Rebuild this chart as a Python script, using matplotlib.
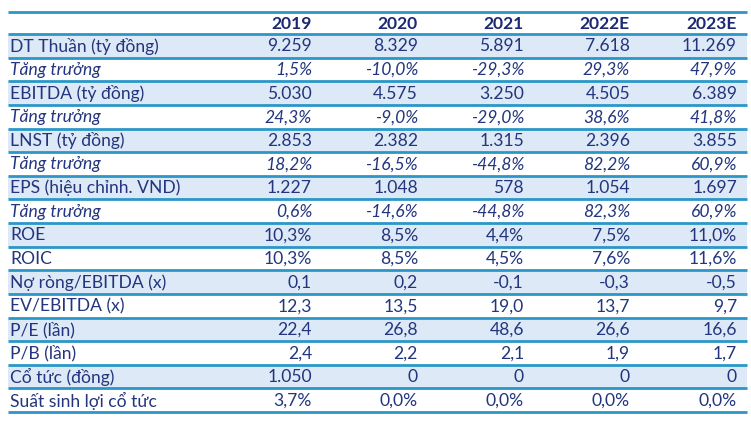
import matplotlib
matplotlib.use("Agg")
import matplotlib.pyplot as plt
from matplotlib.patches import Rectangle

years = ["2019", "2020", "2021", "2022E", "2023E"]
labels = ["DT Thuần (tỷ đồng)", "Tăng trưởng", "EBITDA (tỷ đồng)", "Tăng trưởng",
          "LNST (tỷ đồng)", "Tăng trưởng", "EPS (hiệu chỉnh. VND)", "Tăng trưởng",
          "ROE", "ROIC", "Nợ ròng/EBITDA (x)", "EV/EBITDA (x)", "P/E (lần)",
          "P/B (lần)", "Cổ tức (đồng)", "Suất sinh lợi cổ tức"]
italic_rows = [1, 3, 5, 7]
v2019 = ["9.259", "1,5%", "5.030", "24,3%", "2.853", "18,2%", "1.227", "0,6%", "10,3%", "10,3%", "0,1", "12,3", "22,4", "2,4", "1.050", "3,7%"]
v2020 = ["8.329", "-10,0%", "4.575", "-9,0%", "2.382", "-16,5%", "1.048", "-14,6%", "8,5%", "8,5%", "0,2", "13,5", "26,8", "2,2", "0", "0,0%"]
v2021 = ["5.891", "-29,3%", "3.250", "-29,0%", "1.315", "-44,8%", "578", "-44,8%", "4,4%", "4,5%", "-0,1", "19,0", "48,6", "2,1", "0", "0,0%"]
v2022 = ["7.618", "29,3%", "4.505", "38,6%", "2.396", "82,2%", "1.054", "82,3%", "7,5%", "7,6%", "-0,3", "13,7", "26,6", "1,9", "0", "0,0%"]
v2023 = ["11.269", "47,9%", "6.389", "41,8%", "3.855", "60,9%", "1.697", "60,9%", "11,0%", "11,6%", "-0,5", "9,7", "16,6", "1,7", "0", "0,0%"]
columns = [v2019, v2020, v2021, v2022, v2023]

W, H = 751, 424
fig = plt.figure(figsize=(W / 100, H / 100), dpi=100)
ax = fig.add_axes([0, 0, 1, 1])
ax.set_xlim(0, W)
ax.set_ylim(H, 0)
ax.axis("off")

fam = ["Lato", "DejaVu Sans"]
navy = "#1b2a72"
txt = "#22357e"
line_c = "#2b97c9"
shade = "#dde9f6"

left, right = 8, 747
top, head_bot, bottom = 12, 34, 412
n = len(labels)
rh = (bottom - head_bot) / n
col_right = [312, 418, 524, 630, 737]
fs = 12.6

# shading
for i in range(n):
    if i % 2 == 0:
        ax.add_patch(Rectangle((left, head_bot + i * rh), right - left, rh,
                               facecolor=shade, edgecolor="none", zorder=0))
# lines
ys = [top, head_bot] + [head_bot + (i + 1) * rh for i in range(n)]
for y in ys:
    ax.plot([left, right], [y, y], color=line_c, lw=2.0, solid_capstyle="butt", zorder=2)

# header
hy = (top + head_bot) / 2 + 1
for x, yr in zip(col_right, years):
    ax.text(x, hy, yr, ha="right", va="center", fontsize=fs, fontweight="bold",
            color=navy, family=fam)

for i, lab in enumerate(labels):
    y = head_bot + (i + 0.5) * rh + 0.5
    style = "italic" if i in italic_rows else "normal"
    ax.text(left + 2, y, lab, ha="left", va="center", fontsize=fs, style=style,
            color=txt, family=fam)
    for x, col in zip(col_right, columns):
        ax.text(x, y, col[i], ha="right", va="center", fontsize=fs, style=style,
                color=txt, family=fam)

fig.savefig("out.png", dpi=100)
